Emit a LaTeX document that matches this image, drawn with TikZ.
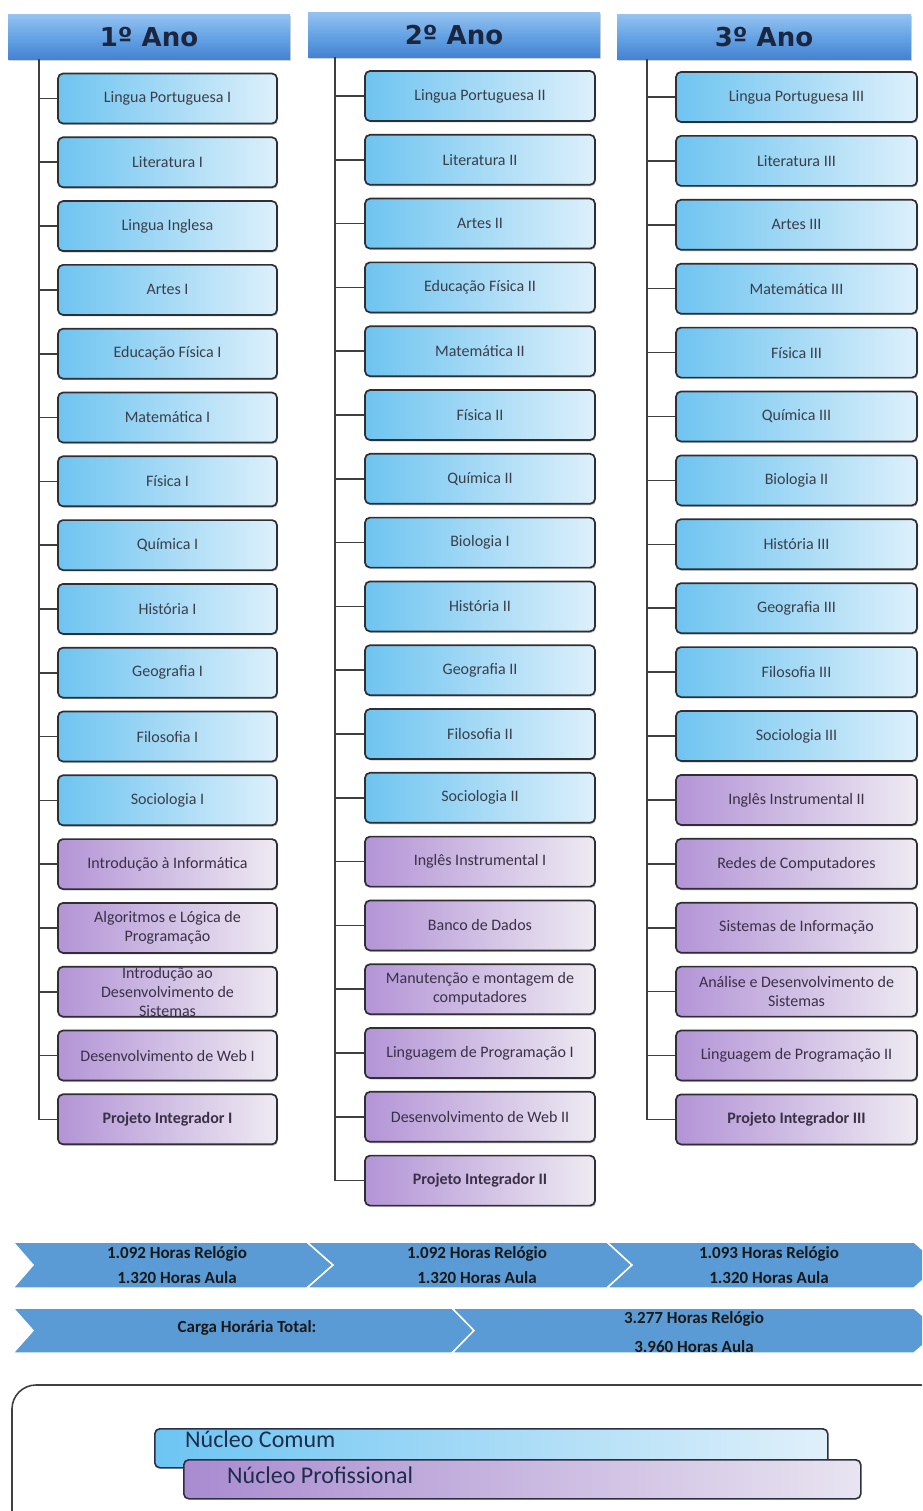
\documentclass[tikz,border=0pt]{standalone}
\usepackage{fontspec}
\setmainfont{Carlito}
\newfontfamily\hdrfont{DejaVu Sans}
\usetikzlibrary{shadows}
\definecolor{boxline}{HTML}{2E2E33}
\definecolor{bL}{HTML}{6EC4F0}
\definecolor{bR}{HTML}{DDF0FB}
\definecolor{pL}{HTML}{B394D6}
\definecolor{pR}{HTML}{EEEAF2}
\definecolor{txt}{HTML}{3A3F4A}
\definecolor{ptxt}{HTML}{3B3048}
\definecolor{hTop}{HTML}{94C2F0}
\definecolor{hMid}{HTML}{66A3E4}
\definecolor{hBot}{HTML}{4482D2}
\definecolor{hTxt}{HTML}{1B2740}
\definecolor{chev}{HTML}{5B9BD5}
\definecolor{spinecol}{HTML}{3F3F3F}
\definecolor{legline}{HTML}{2A2F45}
\definecolor{legtxt}{HTML}{1F2D4D}
\definecolor{lbL}{HTML}{6CC5F2}
\definecolor{lbR}{HTML}{E0F0FA}
\definecolor{lpL}{HTML}{A98BD0}
\definecolor{lpR}{HTML}{E8E4F0}
\begin{document}
\begin{tikzpicture}[x=1pt,y=-1pt,
  subj/.style={draw=boxline, line width=1.7pt, rounded corners=5pt, minimum height=50pt,
    inner sep=0pt, align=center, font=\fontsize{16}{19}\selectfont,
    drop shadow={shadow xshift=1pt, shadow yshift=-1.5pt, opacity=0.4}},
  bluebox/.style={subj, left color=bL, right color=bR, text=txt},
  purplebox/.style={subj, left color=pL, right color=pR, text=ptxt},
  hdr/.style={minimum height=45pt, inner sep=0pt, top color=hTop, bottom color=hBot, middle color=hMid,
    font=\hdrfont\bfseries\fontsize{26}{30}\selectfont, text=hTxt,
    drop shadow={shadow xshift=1pt, shadow yshift=-2pt, opacity=0.35}},
  spine/.style={draw=spinecol, line width=1.6pt},
  chevshape/.style={fill=chev, draw=white, line width=1.5pt, line join=miter},
  chevtext/.style={align=center, font=\bfseries\fontsize{17}{25}\selectfont, text=black!90},
  legendframe/.style={draw=black!75, line width=1.6pt, rounded corners=24pt},
  legbar/.style={draw=legline, line width=1.6pt, rounded corners=5pt, inner sep=0pt, anchor=north west},
  legtext/.style={anchor=base west, font=\fontsize{24}{26}\selectfont, text=legtxt, inner sep=0pt}
]
\useasboundingbox (0,0) rectangle (922,1511);

% headers
\node[hdr, minimum width=282pt] (h1) at (149,37) {1º Ano};
\node[hdr, minimum width=292pt] (h2) at (454,35) {2º Ano};
\node[hdr, minimum width=294pt] (h3) at (764,37) {3º Ano};

% column 1
\foreach \t [count=\i] in {Lingua Portuguesa I, Literatura I, Lingua Inglesa, Artes I,
  Educação Física I, Matemática I, Física I, Química I, História I, Geografia I, Filosofia I, Sociologia I}
  \node[bluebox, minimum width=219pt] (c1-\i) at (167.5,{98.5+(\i-1)*63.8}) {\t};
\foreach \t [count=\i from 13] in {Introdução à Informática, {Algoritmos e Lógica de\\Programação},
  {Introdução ao\\Desenvolvimento de\\Sistemas}, Desenvolvimento de Web I, {\textbf{Projeto Integrador I}}}
  \node[purplebox, minimum width=219pt] (c1-\i) at (167.5,{98.5+(\i-1)*63.8}) {\t};

% column 2
\foreach \t [count=\i] in {Lingua Portuguesa II, Literatura II, Artes II, Educação Física II,
  Matemática II, Física II, Química II, Biologia I, História II, Geografia II, Filosofia II, Sociologia II}
  \node[bluebox, minimum width=230pt] (c2-\i) at (480,{96+(\i-1)*63.8}) {\t};
\foreach \t [count=\i from 13] in {Inglês Instrumental I, Banco de Dados, {Manutenção e montagem de\\computadores},
  Linguagem de Programação I, Desenvolvimento de Web II, {\textbf{Projeto Integrador II}}}
  \node[purplebox, minimum width=230pt] (c2-\i) at (480,{96+(\i-1)*63.8}) {\t};

% column 3
\foreach \t [count=\i] in {Lingua Portuguesa III, Literatura III, Artes III, Matemática III,
  Física III, Química III, Biologia II, História III, Geografia III, Filosofia III, Sociologia III}
  \node[bluebox, minimum width=241pt] (c3-\i) at (796.5,{97+(\i-1)*63.9}) {\t};
\foreach \t [count=\i from 12] in {Inglês Instrumental II, Redes de Computadores, Sistemas de Informação,
  {Análise e Desenvolvimento de\\Sistemas}, Linguagem de Programação II, {\textbf{Projeto Integrador III}}}
  \node[purplebox, minimum width=241pt] (c3-\i) at (796.5,{97+(\i-1)*63.9}) {\t};

% spines
\coordinate (s1) at (39,59);
\coordinate (s2) at (335,57);
\coordinate (s3) at (647,59);
\draw[spine] (s1) |- (c1-17.west);
\draw[spine] (s2) |- (c2-18.west);
\draw[spine] (s3) |- (c3-17.west);
\foreach \i in {1,...,16} \draw[spine] (c1-\i.west) -- (c1-\i.west -| s1);
\foreach \i in {1,...,17} \draw[spine] (c2-\i.west) -- (c2-\i.west -| s2);
\foreach \i in {1,...,16} \draw[spine] (c3-\i.west) -- (c3-\i.west -| s3);

% chevrons row 1
\begin{scope}
\clip (0,0) rectangle (922,1511);
\path[chevshape] (13,1242) -- (307,1242) -- (333,1265) -- (307,1288) -- (13,1288) -- (33,1265) -- cycle;
\path[chevshape] (307,1242) -- (607,1242) -- (632,1265) -- (607,1288) -- (307,1288) -- (333,1265) -- cycle;
\path[chevshape] (607,1242) -- (914,1242) -- (940,1265) -- (914,1288) -- (607,1288) -- (632,1265) -- cycle;
% row 2
\path[chevshape] (13,1308) -- (452,1308) -- (474,1330.5) -- (452,1353) -- (13,1353) -- (33,1330.5) -- cycle;
\path[chevshape] (452,1308) -- (914,1308) -- (940,1330.5) -- (914,1353) -- (452,1353) -- (474,1330.5) -- cycle;
% legend frame
\draw[legendframe] (12,1540) -- (12,1385) -- (945,1385) -- (945,1540);
\end{scope}

\node[chevtext] (t1) at (177,1265) {1.092 Horas Relógio\\1.320 Horas Aula};
\node[chevtext] (t2) at (477,1265) {1.092 Horas Relógio\\1.320 Horas Aula};
\node[chevtext] (t3) at (769,1265) {1.093 Horas Relógio\\1.320 Horas Aula};
\node[chevtext] (t4) at (247,1328) {Carga Horária Total:};
\node[chevtext, font=\bfseries\fontsize{17}{29}\selectfont] (t5) at (694,1332) {3.277 Horas Relógio\\3.960 Horas Aula};

% legend
\node[legbar, left color=lbL, right color=lbR, minimum width=673pt, minimum height=39pt] (ncom) at (154,1428) {};
\node[legtext] (ncomt) at (185,1447) {Núcleo Comum};
\node[legbar, left color=lpL, right color=lpR, minimum width=677pt, minimum height=39pt] (nprof) at (183,1459) {};
\node[legtext] (nproft) at (227,1483) {Núcleo Profissional};
\end{tikzpicture}
\end{document}
